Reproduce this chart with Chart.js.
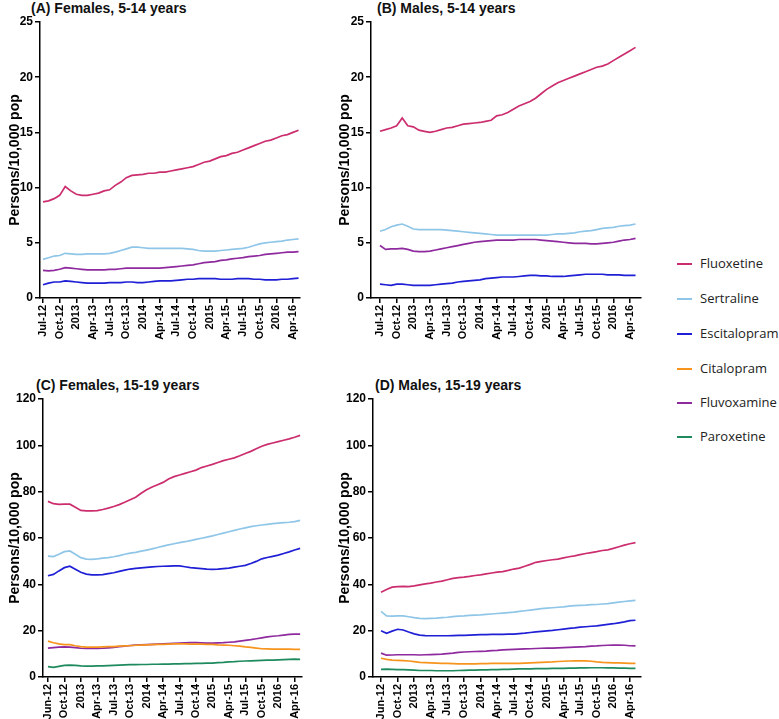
<!DOCTYPE html>
<html><head><meta charset="utf-8">
<script src="https://cdn.jsdelivr.net/npm/chart.js@4.4.1/dist/chart.umd.min.js"></script>
<style>
html,body{margin:0;padding:0;background:#fff;width:779px;height:719px;overflow:hidden;position:relative;}
canvas{position:absolute;}
.ptitle{position:absolute;font:bold 14px 'Liberation Sans',Arial,sans-serif;line-height:14px;color:#111;white-space:nowrap;}
.leg{position:absolute;left:677px;font:13px 'Open Sans',sans-serif;line-height:16px;color:#222;white-space:nowrap;}
.leg i{display:inline-block;width:15px;height:2px;vertical-align:middle;margin-right:8px;position:relative;top:-1px;}
</style>
</head><body>
<div class="ptitle" style="left:31px;top:1px">(A) Females, 5-14 years</div>
<div class="ptitle" style="left:377px;top:1px">(B) Males, 5-14 years</div>
<div class="ptitle" style="left:36px;top:378px">(C) Females, 15-19 years</div>
<div class="ptitle" style="left:375px;top:378px">(D) Males, 15-19 years</div>
<canvas id="cA" width="310" height="360" style="left:0;top:0"></canvas>
<canvas id="cB" width="320" height="360" style="left:330px;top:0"></canvas>
<canvas id="cC" width="310" height="359" style="left:0;top:360px"></canvas>
<canvas id="cD" width="320" height="359" style="left:330px;top:360px"></canvas>
<div id="legend"></div>
<script>
// Tick labels (every third month)
const ticksAB = ['Jul-12','Oct-12','2013','Apr-13','Jul-13','Oct-13','2014','Apr-14','Jul-14','Oct-14','2015','Apr-15','Jul-15','Oct-15','2016','Apr-16'];
const ticksCD = ['Jun-12','Oct-12','2013','Apr-13','Jul-13','Oct-13','2014','Apr-14','Jul-14','Oct-14','2015','Apr-15','Jul-15','Oct-15','2016','Apr-16'];

const drugs = ['Fluoxetine','Sertraline','Escitalopram','Citalopram','Fluvoxamine','Paroxetine'];
const colors = ['#cc2d6e','#8fc6e8','#1f1fd6','#f7941d','#8e2a9e','#1e8a5e'];

// (A) Females 5-14
const A_fluoxetine = [8.7,8.8,9.0,9.3,10.1,9.7,9.4,9.3,9.3,9.4,9.5,9.7,9.8,10.2,10.5,10.9,11.1,11.15,11.2,11.3,11.3,11.4,11.4,11.5,11.6,11.7,11.8,11.9,12.1,12.3,12.4,12.6,12.8,12.9,13.1,13.2,13.4,13.6,13.8,14.0,14.2,14.3,14.5,14.7,14.8,15.0,15.2];
const A_sertraline = [3.5,3.65,3.8,3.85,4.05,4.0,3.95,3.95,4.0,4.0,4.0,4.0,4.05,4.15,4.3,4.45,4.6,4.6,4.55,4.5,4.5,4.5,4.5,4.5,4.5,4.5,4.45,4.4,4.3,4.25,4.25,4.25,4.3,4.35,4.4,4.45,4.5,4.6,4.75,4.9,5.0,5.05,5.1,5.15,5.25,5.3,5.35];
const A_escitalopram = [1.2,1.35,1.45,1.45,1.55,1.5,1.45,1.4,1.35,1.35,1.35,1.35,1.4,1.4,1.4,1.45,1.45,1.4,1.4,1.45,1.5,1.55,1.55,1.55,1.6,1.65,1.7,1.7,1.75,1.75,1.75,1.75,1.7,1.7,1.7,1.75,1.75,1.75,1.7,1.7,1.65,1.65,1.65,1.7,1.7,1.75,1.8];
const A_fluvoxamine = [2.5,2.45,2.5,2.6,2.75,2.7,2.65,2.6,2.55,2.55,2.55,2.55,2.6,2.6,2.65,2.7,2.7,2.7,2.7,2.7,2.7,2.7,2.75,2.8,2.85,2.9,2.95,3.0,3.1,3.2,3.25,3.3,3.4,3.45,3.55,3.6,3.65,3.75,3.8,3.85,3.95,4.0,4.05,4.1,4.15,4.15,4.2];

// (B) Males 5-14
const B_fluoxetine = [15.1,15.25,15.4,15.6,16.3,15.6,15.5,15.2,15.1,15.0,15.1,15.25,15.4,15.45,15.6,15.75,15.8,15.85,15.9,16.0,16.1,16.5,16.6,16.8,17.1,17.4,17.6,17.8,18.1,18.5,18.9,19.2,19.5,19.7,19.9,20.1,20.3,20.5,20.7,20.9,21.0,21.2,21.5,21.8,22.1,22.4,22.7];
const B_sertraline = [6.05,6.2,6.45,6.6,6.7,6.5,6.25,6.2,6.2,6.2,6.2,6.2,6.15,6.1,6.05,6.0,5.95,5.9,5.85,5.8,5.75,5.7,5.7,5.7,5.7,5.7,5.7,5.7,5.7,5.7,5.7,5.75,5.8,5.8,5.85,5.9,6.0,6.05,6.1,6.2,6.3,6.35,6.4,6.5,6.55,6.6,6.7];
const B_escitalopram = [1.25,1.2,1.15,1.25,1.25,1.2,1.15,1.15,1.15,1.15,1.2,1.25,1.3,1.35,1.45,1.5,1.55,1.6,1.65,1.75,1.8,1.85,1.9,1.9,1.9,1.95,2.0,2.05,2.05,2.0,2.0,1.95,1.95,1.95,2.0,2.05,2.1,2.15,2.15,2.15,2.15,2.1,2.1,2.1,2.05,2.05,2.05];
const B_fluvoxamine = [4.75,4.4,4.45,4.45,4.5,4.4,4.25,4.2,4.2,4.25,4.35,4.45,4.55,4.65,4.75,4.85,4.95,5.05,5.1,5.15,5.2,5.25,5.25,5.25,5.25,5.3,5.3,5.3,5.3,5.25,5.2,5.15,5.1,5.05,5.0,4.95,4.95,4.95,4.9,4.9,4.95,5.0,5.05,5.15,5.25,5.3,5.4];

// (C) Females 15-19
const C_fluoxetine = [75.8,74.8,74.5,74.6,74.6,73.3,71.9,71.7,71.7,71.8,72.3,72.9,73.6,74.4,75.4,76.5,77.6,79.3,80.8,82.0,83.0,84.0,85.5,86.5,87.2,87.9,88.6,89.3,90.4,91.1,91.8,92.6,93.4,94.0,94.6,95.5,96.5,97.4,98.5,99.6,100.4,101.0,101.6,102.2,102.8,103.5,104.3];
const C_sertraline = [52.2,52.0,53.0,54.1,54.4,53.0,51.5,50.9,50.8,51.0,51.3,51.5,51.9,52.4,53.0,53.5,53.8,54.3,54.8,55.3,55.9,56.5,57.0,57.5,58.0,58.4,58.9,59.4,59.9,60.4,60.9,61.5,62.1,62.7,63.3,63.9,64.4,64.9,65.3,65.6,65.9,66.2,66.4,66.6,66.8,67.1,67.6];
const C_escitalopram = [43.7,44.3,45.8,47.2,47.8,46.5,45.2,44.4,44.1,44.1,44.2,44.6,45.0,45.6,46.1,46.6,46.9,47.1,47.3,47.5,47.7,47.8,47.9,48.0,48.0,47.6,47.2,47.0,46.8,46.6,46.5,46.6,46.8,47.0,47.4,47.8,48.2,49.0,49.9,51.0,51.6,52.1,52.6,53.3,54.0,54.8,55.5];
const C_citalopram = [15.5,14.8,14.3,14.0,14.0,13.5,13.1,12.9,12.9,12.9,13.0,13.1,13.1,13.3,13.4,13.5,13.7,13.8,13.9,14.0,14.1,14.1,14.2,14.3,14.3,14.3,14.2,14.2,14.2,14.1,14.1,13.9,13.8,13.7,13.5,13.3,13.0,12.8,12.5,12.2,12.1,12.0,12.0,12.0,12.0,11.9,11.9];
const C_fluvoxamine = [12.5,12.7,12.9,13.0,12.9,12.7,12.4,12.3,12.3,12.3,12.4,12.6,12.8,13.1,13.3,13.6,13.8,13.9,14.0,14.1,14.2,14.3,14.4,14.5,14.6,14.7,14.8,14.8,14.7,14.6,14.6,14.7,14.8,15.0,15.2,15.5,15.8,16.1,16.5,16.9,17.3,17.6,17.8,18.1,18.4,18.5,18.5];
const C_paroxetine = [4.5,4.2,4.6,5.0,5.1,5.0,4.8,4.7,4.7,4.8,4.8,4.9,5.0,5.1,5.2,5.3,5.3,5.4,5.4,5.5,5.5,5.6,5.6,5.7,5.7,5.8,5.8,5.9,5.9,6.0,6.0,6.2,6.3,6.5,6.6,6.8,6.9,7.0,7.1,7.2,7.3,7.3,7.4,7.5,7.6,7.7,7.6];

// (D) Males 15-19
const D_fluoxetine = [36.6,37.8,38.8,39.0,39.1,39.0,39.3,39.8,40.2,40.5,41.0,41.4,42.0,42.6,42.9,43.1,43.4,43.8,44.1,44.5,44.9,45.3,45.5,46.0,46.6,47.0,47.8,48.6,49.5,49.9,50.3,50.6,50.9,51.4,51.9,52.3,52.8,53.3,53.7,54.1,54.6,54.9,55.5,56.2,56.9,57.5,58.0];
const D_sertraline = [28.3,26.4,26.3,26.4,26.4,26.0,25.6,25.3,25.2,25.3,25.4,25.6,25.8,26.1,26.3,26.4,26.6,26.7,26.8,27.0,27.2,27.4,27.6,27.8,28.0,28.3,28.6,28.9,29.2,29.5,29.7,29.9,30.1,30.3,30.6,30.8,30.9,31.0,31.2,31.3,31.5,31.7,32.0,32.3,32.6,32.9,33.1];
const D_escitalopram = [20.0,18.9,19.8,20.6,20.3,19.4,18.6,18.1,17.9,17.8,17.8,17.8,17.8,17.9,18.0,18.0,18.1,18.2,18.3,18.3,18.4,18.4,18.4,18.5,18.5,18.7,18.9,19.2,19.5,19.7,19.9,20.1,20.4,20.7,21.0,21.2,21.5,21.7,21.9,22.1,22.4,22.7,23.0,23.4,23.8,24.3,24.5];
const D_citalopram = [8.1,7.6,7.3,7.2,7.1,6.9,6.6,6.3,6.2,6.1,6.0,5.9,5.9,5.8,5.7,5.7,5.7,5.7,5.8,5.8,5.9,5.9,5.9,5.9,5.9,5.9,6.0,6.1,6.2,6.3,6.4,6.5,6.7,6.8,6.9,7.0,7.0,7.0,6.8,6.5,6.3,6.2,6.1,6.1,6.0,5.9,5.9];
const D_fluvoxamine = [10.3,9.4,9.5,9.6,9.6,9.6,9.6,9.5,9.6,9.7,9.8,9.9,10.1,10.3,10.6,10.8,10.9,11.0,11.1,11.2,11.4,11.5,11.7,11.8,11.9,12.0,12.1,12.2,12.3,12.4,12.5,12.5,12.6,12.7,12.8,12.9,13.0,13.1,13.3,13.4,13.6,13.7,13.8,13.8,13.7,13.5,13.4];
const D_paroxetine = [3.3,3.4,3.3,3.2,3.2,3.1,3.0,2.8,2.8,2.8,2.7,2.7,2.7,2.7,2.8,2.9,3.0,3.0,3.1,3.1,3.2,3.2,3.3,3.3,3.4,3.5,3.5,3.5,3.6,3.6,3.6,3.7,3.7,3.7,3.8,3.8,3.9,3.9,4.0,4.0,4.0,3.9,3.9,3.8,3.8,3.7,3.7];

const FONT = "'Liberation Sans', Arial, sans-serif";

function ds(name, values) {
  const c = colors[drugs.indexOf(name)];
  return { label: name, data: values.map((v, i) => ({ x: i, y: v })), borderColor: c, backgroundColor: c,
           borderWidth: 1.7, pointRadius: 0, fill: false, tension: 0 };
}

function panel(id, series, o) {
  new Chart(document.getElementById(id), {
    type: 'line',
    data: { datasets: series },
    options: {
      responsive: false, animation: false, devicePixelRatio: 1,
      layout: { padding: o.pad },
      plugins: { legend: { display: false }, tooltip: { enabled: false }, title: { display: false } },
      scales: {
        x: {
          type: 'linear', min: o.xMin, max: o.xMax,
          afterFit: s => { s.height = o.xH; },
          border: { color: '#000', width: 1.5 },
          grid: { drawOnChartArea: false, drawTicks: true, tickLength: 5, color: '#000', lineWidth: 1.5 },
          ticks: {
            stepSize: 3, includeBounds: false, autoSkip: false, maxRotation: 90, minRotation: 90, padding: 2,
            color: '#000', font: { family: FONT, size: 11, weight: 'bold' },
            callback: v => { const k = v / 3; return (Number.isInteger(k) && k >= 0 && k < o.tl.length) ? o.tl[k] : null; }
          }
        },
        y: {
          min: 0, max: o.yMax,
          afterFit: s => { s.width = o.yW; },
          border: { color: '#000', width: 1.5 },
          grid: { drawOnChartArea: false, drawTicks: true, tickLength: 5, color: '#000', lineWidth: 1.5 },
          ticks: { stepSize: o.yStep, padding: 2, color: '#000', font: { family: FONT, size: 12, weight: 'bold' } },
          title: { display: true, text: 'Persons/10,000 pop', color: '#000', padding: { top: 7, bottom: 0 },
                   font: { family: FONT, size: 14, weight: 'bold' } }
        }
      }
    }
  });
}

panel('cA', [ds('Fluoxetine', A_fluoxetine), ds('Sertraline', A_sertraline), ds('Escitalopram', A_escitalopram), ds('Fluvoxamine', A_fluvoxamine)],
  { pad: { top: 22, right: 10, left: 0, bottom: 0 }, yW: 40, xH: 62, yMax: 25, yStep: 5, xMin: -0.54, xMax: 46.26, tl: ticksAB });
panel('cB', [ds('Fluoxetine', B_fluoxetine), ds('Sertraline', B_sertraline), ds('Escitalopram', B_escitalopram), ds('Fluvoxamine', B_fluvoxamine)],
  { pad: { top: 22, right: 9, left: 0, bottom: 0 }, yW: 41, xH: 62, yMax: 25, yStep: 5, xMin: -1.62, xMax: 46.98, tl: ticksAB });
panel('cC', [ds('Fluoxetine', C_fluoxetine), ds('Sertraline', C_sertraline), ds('Escitalopram', C_escitalopram), ds('Citalopram', C_citalopram), ds('Fluvoxamine', C_fluvoxamine), ds('Paroxetine', C_paroxetine)],
  { pad: { top: 39, right: 6, left: 0, bottom: 0 }, yW: 43, xH: 42, yMax: 120, yStep: 20, xMin: -0.9, xMax: 46.3, tl: ticksCD });
panel('cD', [ds('Fluoxetine', D_fluoxetine), ds('Sertraline', D_sertraline), ds('Escitalopram', D_escitalopram), ds('Citalopram', D_citalopram), ds('Fluvoxamine', D_fluvoxamine), ds('Paroxetine', D_paroxetine)],
  { pad: { top: 39, right: 9, left: 0, bottom: 0 }, yW: 43, xH: 42, yMax: 120, yStep: 20, xMin: -1.45, xMax: 47.0, tl: ticksCD });

// Shared legend
const legTops = [255, 290, 325, 360, 394, 428];
const legend = document.getElementById('legend');
drugs.forEach((d, i) => {
  const el = document.createElement('div');
  el.className = 'leg';
  el.style.top = legTops[i] + 'px';
  el.innerHTML = '<i style="background:' + colors[i] + '"></i>' + d;
  legend.appendChild(el);
});
</script>
</body></html>
